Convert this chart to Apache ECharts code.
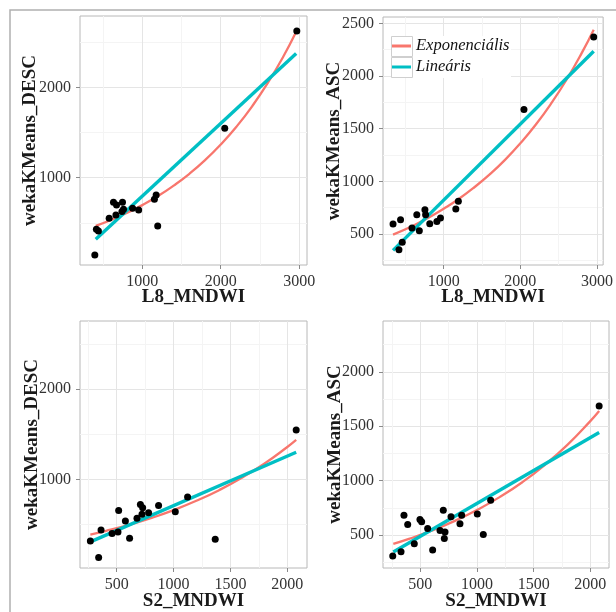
<!DOCTYPE html>
<html>
<head>
<meta charset="utf-8">
<script src="https://cdn.jsdelivr.net/npm/echarts@6/dist/echarts.min.js"></script>
<style>
html, body { margin: 0; padding: 0; background: #fff; }
#chart { width: 616px; height: 612px; }
</style>
</head>
<body>
<div id="chart"></div>
<script>
// --- L8_MNDWI vs wekaKMeans_DESC
const l8DescX = [394, 414, 440, 577, 632, 671, 747, 663, 740, 760, 876, 953, 1176, 1154, 1196, 2051, 2970];
const l8DescY = [145, 430, 410, 551, 728, 698, 728, 587, 624, 650, 661, 643, 809, 761, 466, 1546, 2623];
const l8DescExpX = [406, 600, 800, 1000, 1200, 1400, 1600, 1800, 2000, 2200, 2400, 2600, 2800, 2962];
const l8DescExpY = [466, 531, 608, 696, 796, 912, 1043, 1194, 1367, 1564, 1790, 2049, 2345, 2616];
const l8DescLinX = [406, 2962];
const l8DescLinY = [319, 2376];

// --- L8_MNDWI vs wekaKMeans_ASC
const l8AscX = [339, 437, 416, 459, 586, 649, 682, 755, 764, 818, 911, 958, 1158, 1191, 2047, 2957];
const l8AscY = [595, 636, 351, 421, 557, 684, 532, 731, 684, 598, 620, 652, 738, 810, 1681, 2371];
const l8AscExpX = [339, 600, 800, 1000, 1200, 1400, 1600, 1800, 2000, 2200, 2400, 2600, 2800, 2957];
const l8AscExpY = [494, 579, 654, 740, 835, 944, 1066, 1204, 1361, 1537, 1737, 1962, 2217, 2440];
const l8AscLinX = [339, 2957];
const l8AscLinY = [345, 2235];

// --- S2_MNDWI vs wekaKMeans_DESC
const s2DescX = [268, 341, 362, 459, 511, 517, 576, 613, 678, 708, 728, 722, 780, 868, 1015, 1123, 1366, 2078];
const s2DescY = [320, 137, 441, 401, 419, 658, 540, 350, 570, 724, 688, 614, 633, 713, 644, 805, 338, 1548];
const s2DescExpX = [268, 400, 600, 800, 1000, 1200, 1400, 1600, 1800, 2000, 2078];
const s2DescExpY = [390, 429, 495, 572, 661, 764, 882, 1019, 1177, 1360, 1438];
const s2DescLinX = [268, 2078];
const s2DescLinY = [309, 1301];

// --- S2_MNDWI vs wekaKMeans_ASC
const s2AscX = [257, 330, 356, 389, 447, 497, 512, 565, 609, 674, 703, 718, 712, 771, 850, 865, 1003, 1056, 1121, 2078];
const s2AscY = [308, 348, 683, 597, 421, 643, 622, 561, 363, 543, 729, 528, 469, 668, 604, 683, 695, 506, 821, 1686];
const s2AscExpX = [262, 400, 600, 800, 1000, 1200, 1400, 1600, 1800, 2000, 2078];
const s2AscExpY = [420, 466, 541, 629, 731, 849, 986, 1146, 1331, 1547, 1640];
const s2AscLinX = [262, 2078];
const s2AscLinY = [345, 1443];

// ticks
const l8Ticks = [1000, 2000, 3000];
const l8Minor = [500, 1500, 2500];
const s2Ticks = [500, 1000, 1500, 2000];
const s2Minor = [250, 750, 1250, 1750];
const descTicks = [1000, 2000];
const descMinor = [500, 1500, 2500];
const ascTicks = [500, 1000, 1500, 2000, 2500];
const ascMinor = [250, 750, 1250, 1750, 2250];

const legendNames = ['Exponenciális', 'Lineáris'];
const RED = '#F8766D';
const TEAL = '#00BFC4';
const FONT = 'Liberation Serif';

const zip = (xs, ys) => xs.map((x, i) => [x, ys[i]]);

const panels = [
  { grid: { left: 80, top: 16, width: 227, height: 249 },
    xr: [205, 3100], yr: [33, 2790], xt: l8Ticks, xm: l8Minor, yt: descTicks, ym: descMinor,
    xName: 'L8_MNDWI', yName: 'wekaKMeans_DESC', gapX: 23, gapY: 40,
    pts: zip(l8DescX, l8DescY), exp: zip(l8DescExpX, l8DescExpY), lin: zip(l8DescLinX, l8DescLinY) },
  { grid: { left: 383, top: 17, width: 226, height: 248 },
    xr: [208, 3080], yr: [206, 2560], xt: l8Ticks, xm: l8Minor, yt: ascTicks, ym: ascMinor,
    xName: 'L8_MNDWI', yName: 'wekaKMeans_ASC', gapX: 23, gapY: 39,
    pts: zip(l8AscX, l8AscY), exp: zip(l8AscExpX, l8AscExpY), lin: zip(l8AscLinX, l8AscLinY) },
  { grid: { left: 80, top: 321, width: 227, height: 248 },
    xr: [177, 2173], yr: [20, 2755], xt: s2Ticks, xm: s2Minor, yt: descTicks, ym: descMinor,
    xName: 'S2_MNDWI', yName: 'wekaKMeans_DESC', gapX: 24, gapY: 38,
    pts: zip(s2DescX, s2DescY), exp: zip(s2DescExpX, s2DescExpY), lin: zip(s2DescLinX, s2DescLinY) },
  { grid: { left: 383, top: 321, width: 226, height: 248 },
    xr: [171, 2165], yr: [198, 2467], xt: s2Ticks, xm: s2Minor, yt: ascTicks, ym: ascMinor,
    xName: 'S2_MNDWI', yName: 'wekaKMeans_ASC', gapX: 24, gapY: 38,
    pts: zip(s2AscX, s2AscY), exp: zip(s2AscExpX, s2AscExpY), lin: zip(s2AscLinX, s2AscLinY) }
];

const nameStyle = { fontFamily: FONT, fontWeight: 'bold', fontSize: 19, color: '#1a1a1a' };

function majorAxis(g, range, ticks, name, gap, isY) {
  return {
    type: 'value', gridIndex: g, min: range[0], max: range[1],
    axisLine: { show: false },
    axisTick: { show: true, length: 4, lineStyle: { color: '#8a8a8a' }, customValues: ticks },
    axisLabel: { customValues: ticks, formatter: v => String(v), color: '#333',
                 fontFamily: FONT, fontSize: 16, margin: 9 },
    splitLine: { show: true, lineStyle: { color: '#e5e5e5', width: 1 } },
    name: name, nameLocation: 'middle', nameGap: gap, nameMoveOverlap: false,
    nameTextStyle: nameStyle
  };
}
function minorAxis(g, range, ticks) {
  return {
    type: 'value', gridIndex: g, min: range[0], max: range[1],
    axisLine: { show: false },
    axisTick: { show: false, customValues: ticks },
    axisLabel: { show: false, customValues: ticks },
    splitLine: { show: true, lineStyle: { color: '#f4f4f4', width: 1 } }
  };
}

const grids = [], xAxes = [], yAxes = [], series = [];
panels.forEach((p, g) => {
  grids.push(Object.assign({ show: true, borderColor: '#b8b8b8', borderWidth: 1, backgroundColor: '#fff' }, p.grid));
  xAxes.push(majorAxis(g, p.xr, p.xt, p.xName, p.gapX, false), minorAxis(g, p.xr, p.xm));
  yAxes.push(majorAxis(g, p.yr, p.yt, p.yName, p.gapY, true), minorAxis(g, p.yr, p.ym));
  series.push({
    name: 'Exponenciális', type: 'line', xAxisIndex: 2 * g, yAxisIndex: 2 * g,
    data: p.exp, smooth: true, symbol: 'none', silent: true, z: 3,
    itemStyle: { color: RED }, lineStyle: { color: RED, width: 2.3 }
  });
  series.push({
    name: 'Lineáris', type: 'line', xAxisIndex: 2 * g, yAxisIndex: 2 * g,
    data: p.lin, symbol: 'none', silent: true, z: 3,
    itemStyle: { color: TEAL }, lineStyle: { color: TEAL, width: 3.4 }
  });
  series.push({
    name: 'pontok', type: 'scatter', xAxisIndex: 2 * g, yAxisIndex: 2 * g,
    data: p.pts, symbolSize: 7, z: 4,
    itemStyle: { color: '#000', opacity: 1 }
  });
});

const chart = echarts.init(document.getElementById('chart'), null, { renderer: 'canvas' });
chart.setOption({
  animation: false,
  backgroundColor: '#fff',
  grid: grids,
  xAxis: xAxes,
  yAxis: yAxes,
  series: series,
  legend: {
    data: legendNames.map(n => ({ name: n, icon: 'rect' })),
    orient: 'vertical', left: 392, top: 36, padding: 0,
    itemWidth: 19, itemHeight: 3, itemGap: 1, selectedMode: false, z: 6,
    textStyle: { fontFamily: FONT, fontStyle: 'italic', fontSize: 16.5, color: '#111', lineHeight: 20 }
  },
  graphic: [
    { type: 'rect', z: 0, silent: true, shape: { x: 10, y: 10, width: 700, height: 700 },
      style: { fill: 'none', stroke: '#b0b0b0', lineWidth: 1.5 } },
    { type: 'rect', z: 5, silent: true, shape: { x: 391, y: 36, width: 120, height: 42 },
      style: { fill: '#fff', stroke: 'none' } },
    { type: 'rect', z: 5, silent: true, shape: { x: 391.5, y: 36.5, width: 21, height: 20 },
      style: { fill: 'none', stroke: '#cfcfcf', lineWidth: 1 } },
    { type: 'rect', z: 5, silent: true, shape: { x: 391.5, y: 57.5, width: 21, height: 20 },
      style: { fill: 'none', stroke: '#cfcfcf', lineWidth: 1 } }
  ]
});
</script>
</body>
</html>
